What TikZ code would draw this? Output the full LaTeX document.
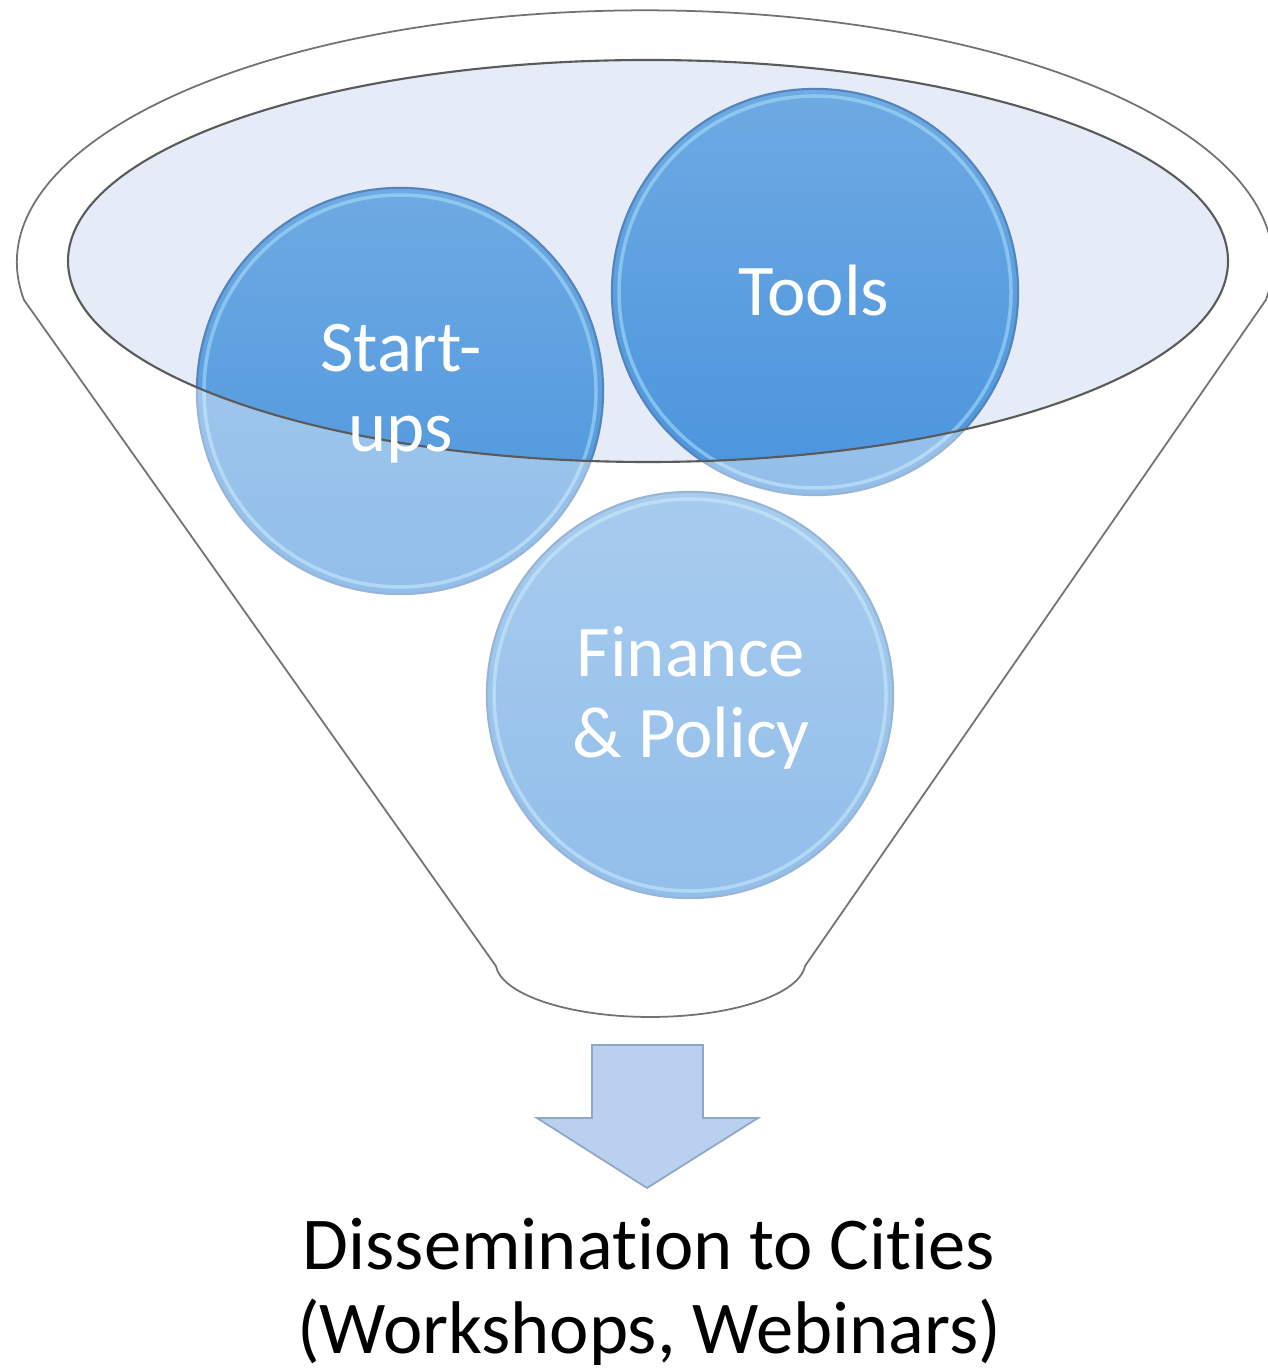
\documentclass[tikz,border=0pt]{standalone}
\usepackage{fontspec}
\setmainfont{Carlito}[Ligatures=NoCommon]
\usepackage{tikz}
\usetikzlibrary{positioning}

\definecolor{bubtop}{HTML}{6EAAE3}
\definecolor{bubbot}{HTML}{4A94DD}
\definecolor{bubedge}{HTML}{5584BA}
\definecolor{glint}{HTML}{A6DCF8}
\definecolor{bowl}{HTML}{E5ECF7}
\definecolor{rimline}{HTML}{5A5A5A}
\definecolor{funnelline}{HTML}{727272}
\definecolor{arrowfill}{HTML}{B9D1EF}
\definecolor{arrowedge}{HTML}{8FA6C4}

\begin{document}
\begin{tikzpicture}[x=0.01cm, y=-0.01cm,
    bubble/.style={circle, minimum size=4.06cm, inner sep=0pt,
      top color=bubtop, bottom color=bubbot, draw=bubedge, line width=0.6pt},
    glintring/.style={draw=glint, line width=1pt, opacity=0.6},
    bubtext/.style={text=white, align=center, anchor=base,
      font=\fontsize{20.7pt}{22.8pt}\selectfont},
    caption/.style={text=black, align=center, anchor=base,
      font=\fontsize{21.2pt}{23.8pt}\selectfont},
    funnel/.style={draw=funnelline, line width=0.5pt},
    bowlline/.style={draw=rimline, line width=0.6pt},
    blockarrow/.style={fill=arrowfill, draw=arrowedge, line width=0.5pt}]

      \useasboundingbox (0,0) rectangle (1268,1371);

      % Surface of the funnel
      \coordinate (bowlc) at (648,261);
      \fill[bowl] (bowlc) ellipse[x radius=580, y radius=201];

      % The three bubbles
      \node[bubble] (su) at (400,391) {};
      \node[bubble] (tl) at (815,292) {};
      \node[bubble] (fp) at (690,695) {};
      \foreach \b in {su,tl,fp} {
        \draw[glintring] (\b) circle (196);
      }

      % Glass of the funnel below the surface
      \fill[white, fill opacity=0.4, even odd rule]
        (0,0) rectangle (1268,1371) (bowlc) ellipse[x radius=580, y radius=201];

      % Outline of the funnel
      \draw[funnel] (24,300) arc[start angle=171.4, end angle=368.6, x radius=628, y radius=252]
        -- (805,966) arc[start angle=4.2, end angle=175.8, x radius=155, y radius=55] -- cycle;
      \draw[bowlline] (bowlc) ellipse[x radius=580, y radius=201];

      % Labels of the bubbles (base = last line)
      \node[bubtext] (sutext) at (401,452) {Start-\\ups};
      \node[bubtext] (tltext) at (814,316) {Tools};
      \node[bubtext] (fptext) at (691,757) {Finance\\\& Policy};

      % Arrow out of the funnel
      \draw[blockarrow] (592,1045) -- (703,1045) -- (703,1118) -- (758,1118)
        -- (647,1188) -- (537,1118) -- (592,1118) -- cycle;

      \node[caption] (dissem) at (649,1353) {Dissemination to Cities\\(Workshops, Webinars)};

\end{tikzpicture}
\end{document}
